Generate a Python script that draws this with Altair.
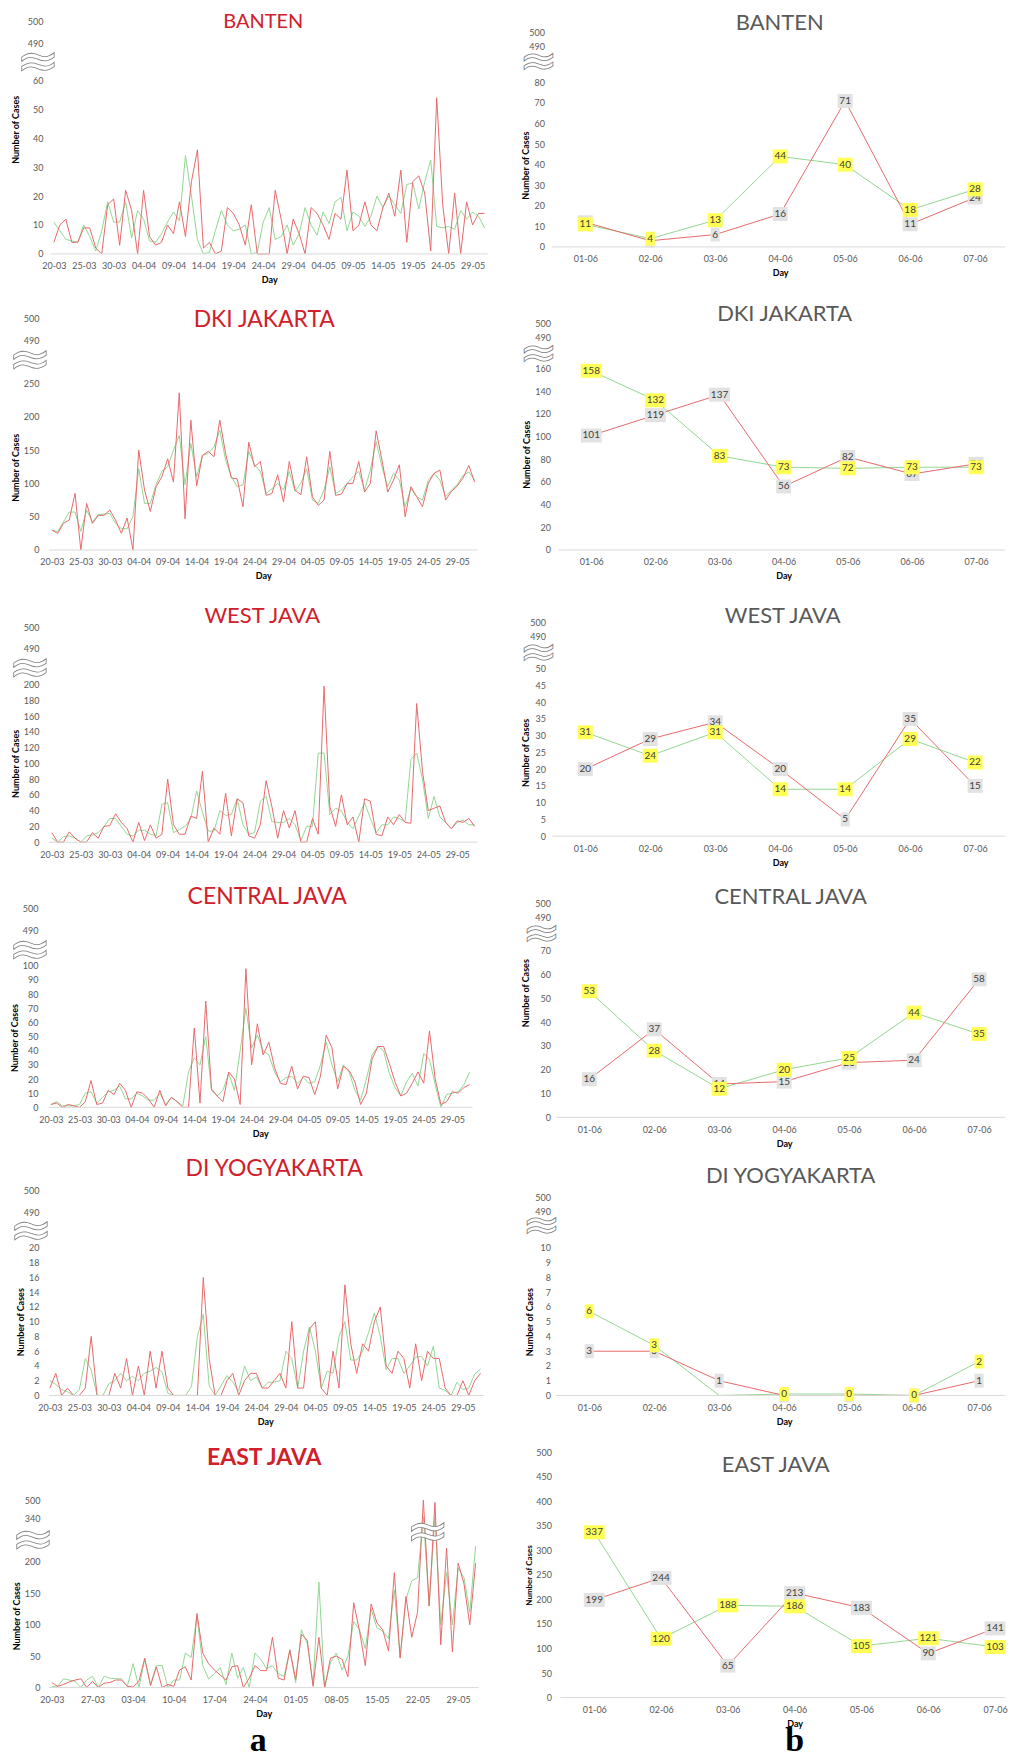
import altair as alt
import pandas as pd

# ---------------- categories ----------------
days = list(pd.date_range("2020-03-20", "2020-06-01").strftime("%d-%m"))  # 20-03 .. 01-06
days_banten = list(pd.date_range("2020-03-20", "2020-05-31").strftime("%d-%m"))  # 20-03 .. 31-05
pred_days = ["01-06", "02-06", "03-06", "04-06", "05-06", "06-06", "07-06"]
ticks_5 = ["20-03", "25-03", "30-03", "04-04", "09-04", "14-04", "19-04", "24-04",
           "29-04", "04-05", "09-05", "14-05", "19-05", "24-05", "29-05"]
ticks_7 = ["20-03", "27-03", "03-04", "10-04", "17-04", "24-04", "01-05", "08-05",
           "15-05", "22-05", "29-05"]

# ---------------- daily series (left, a) ----------------
banten_red = [4, 10, 12, 4, 4, 9, 9, 2, 0, 17,
              19, 3, 22, 15, 0, 22, 6, 3, 4, 10,
              7, 18, 6, 25, 36, 2, 4, 0, 1, 16,
              14, 10, 3, 17, 0, 0, 0, 22, 12, 0,
              12, 7, 0, 16, 14, 10, 5, 14, 12, 29,
              8, 10, 18, 10, 8, 16, 21, 13, 29, 4,
              25, 27, 21, 1, 54, 17, 0, 21, 0, 18,
              10, 14, 14]
banten_green = [11, 8, 5, 4.5, 4, 10, 6, 1, 8, 18,
                11, 11, 18, 5.5, 15, 12, 4.5, 4, 7, 11,
                14.5, 11.5, 34, 20, 5, 0, 0.5, 8, 15, 10,
                8, 8.5, 10, 0, 0.5, 11, 16, 5, 6, 10,
                3, 7, 16, 10, 6.5, 14.5, 10.5, 18, 19.5, 8,
                14.5, 13, 9.5, 13, 20, 16, 20, 17, 14, 24,
                24.5, 15.5, 25, 32.5, 9.5, 9, 9.5, 8.5, 15, 12,
                14.5, 13, 9]

dki_red = [30, 25, 40, 45, 85, 0, 70, 40, 52, 52,
           60, 45, 25, 48, 0, 150, 90, 58, 95, 110,
           137, 102, 236, 47, 195, 96, 142, 148, 140, 195,
           145, 108, 107, 65, 162, 125, 133, 82, 85, 113,
           72, 133, 90, 83, 140, 80, 67, 75, 148, 82,
           84, 100, 100, 133, 87, 100, 179, 135, 87, 105,
           128, 50, 95, 80, 65, 100, 115, 120, 75, 88,
           96, 108, 127, 102]
dki_green = [30, 28, 42, 57, 57, 28, 60, 42, 53, 54,
             55, 40, 32, 32, 50, 122, 70, 70, 98, 118,
             125, 150, 172, 98, 160, 110, 142, 145, 155, 180,
             135, 110, 95, 98, 148, 128, 118, 85, 92, 100,
             90, 118, 88, 100, 122, 75, 70, 90, 125, 85,
             90, 100, 110, 118, 90, 120, 163, 125, 95, 115,
             105, 65, 92, 80, 75, 105, 115, 105, 80, 90,
             98, 112, 117, 105]

wj_red = [12, 0, 0, 13, 5, 0, 0, 12, 5, 20,
          21, 36, 25, 17, 0, 25, 2, 22, 5, 10,
          80, 22, 10, 10, 33, 30, 90, 0, 18, 10,
          62, 8, 55, 50, 8, 5, 22, 78, 45, 5,
          40, 18, 40, 0, 0, 30, 10, 198, 45, 20,
          60, 22, 32, 0, 55, 52, 10, 8, 32, 22,
          35, 25, 24, 176, 90, 40, 43, 46, 25, 17,
          27, 25, 30, 20]
wj_green = [5, 0, 7, 8, 5, 0, 8, 9, 12, 20,
            30, 30, 20, 10, 8, 15, 15, 10, 8, 48,
            50, 12, 16, 20, 30, 65, 38, 14, 14, 40,
            34, 35, 55, 22, 10, 12, 52, 58, 26, 25,
            25, 30, 22, 2, 20, 20, 113, 113, 35, 43,
            40, 25, 17, 33, 50, 30, 12, 22, 22, 32,
            30, 26, 105, 113, 80, 30, 58, 32, 25, 17,
            25, 28, 22, 22]

cj_red = [2, 3, 0, 2, 1, 0, 4, 19, 2, 3,
          12, 9, 17, 12, 0, 11, 10, 6, 0, 12,
          1, 7, 4, 0, 0, 56, 3, 75, 13, 8,
          4, 25, 20, 2, 98, 30, 59, 37, 46, 28,
          17, 16, 29, 13, 22, 21, 9, 22, 51, 42,
          13, 29, 26, 18, 2, 10, 34, 43, 43, 31,
          18, 8, 10, 17, 25, 17, 54, 20, 2, 4,
          11, 10, 14, 16]
cj_green = [2, 4, 1, 1, 1, 2, 10, 11, 3, 7,
            11, 12, 15, 6, 6, 10, 8, 5, 5, 10,
            2, 7, 4, 1, 25, 35, 30, 50, 12, 8,
            12, 24, 12, 40, 70, 42, 51, 40, 37, 25,
            18, 21, 22, 17, 21, 17, 18, 30, 46, 30,
            18, 30, 25, 12, 5, 20, 37, 43, 40, 24,
            14, 8, 18, 24, 15, 38, 34, 16, 0, 9,
            10, 11, 16, 25]

diy_red = [1, 3, 0, 1, 0, 0, 1, 8, 0, 0,
           0, 3, 1, 5, 0, 4, 0, 6, 1, 6,
           1, 0, 0, 0, 0, 0, 16, 5, 0, 0,
           2, 3, 0, 2, 3, 3, 1, 1, 2, 3,
           1, 10, 1, 1, 9, 10, 1, 0, 6, 1,
           15, 7, 3, 7, 6, 10, 12, 4, 3, 6,
           5, 1, 7, 2, 6, 5, 5, 1, 0, 0,
           2, 0, 2, 3]
diy_green = [2, 1.5, 0.8, 0.5, 0, 0.8, 5, 3.5, 0, 0,
             1.6, 2, 3, 2, 2.6, 2, 3, 3.3, 3.8, 3.2,
             0.3, 0, 0, 0, 1.2, 8, 11, 1.3, 0, 1.3,
             2.7, 1.8, 0.6, 4, 2, 2.5, 1, 1.8, 1.8, 2,
             6, 5, 1, 6, 9.3, 6, 1, 3.3, 3, 8,
             10, 4.8, 4.8, 6, 8.5, 11.2, 8, 3.5, 5, 5,
             3, 4, 5.2, 5.3, 4, 6.7, 1, 0.7, 0, 1.8,
             0.8, 1, 2.9, 3.6]

ej_red = [8, 2, 5, 9, 12, 14, 0, 10, 0, 7,
          8, 12, 12, 2, 1, 10, 47, 3, 33, 0,
          5, 2, 28, 33, 12, 118, 55, 38, 28, 20,
          12, 33, 35, 0, 15, 35, 27, 27, 80, 15,
          12, 60, 13, 85, 75, 2, 80, 0, 47, 50,
          45, 17, 135, 90, 35, 133, 103, 92, 58, 183,
          47, 145, 80, 120, 500, 130, 480, 68, 222, 57,
          198, 165, 100, 198]
ej_green = [2, 2, 14, 12, 10, 0, 12, 18, 0, 18,
            15, 14, 14, 2, 38, 0, 45, 5, 35, 35,
            0, 12, 12, 55, 48, 115, 35, 14, 22, 32,
            5, 55, 15, 32, 0, 55, 45, 30, 35, 22,
            18, 60, 8, 92, 70, 5, 168, 0, 40, 55,
            28, 50, 105, 92, 62, 125, 95, 90, 78, 155,
            48, 140, 170, 175, 350, 130, 350, 100, 183, 100,
            190, 175, 120, 225]

# ---------------- 7-day series (right, b) ----------------
banten_r_red = [12, 3, 6, 16, 71, 11, 24]
banten_r_green = [11, 4, 13, 44, 40, 18, 28]
dki_r_red = [101, 119, 137, 56, 82, 67, 76]
dki_r_green = [158, 132, 83, 73, 72, 73, 73]
wj_r_red = [20, 29, 34, 20, 5, 35, 15]
wj_r_green = [31, 24, 31, 14, 14, 29, 22]
cj_r_red = [16, 37, 14, 15, 23, 24, 58]
cj_r_green = [53, 28, 12, 20, 25, 44, 35]
diy_r_red = [3, 3, 1, 0, 0, 0, 1]
diy_r_green = [5.7, 3.4, -0.5, 0.1, 0.1, 0, 2.3]
ej_r_red = [199, 244, 65, 213, 183, 90, 141]
ej_r_green = [337, 120, 188, 186, 105, 121, 103]

# ---------------- styling ----------------
FONT = "Lato"
RED = "#e8696c"
GREEN = "#93d793"
GRAY = "#595959"
TITLE_RED = "#d0202a"
BOX_GRAY = "#e2e2e2"
BOX_YELLOW = "#ffff55"
WL, WR = 441, 454


def one(**kw):
    return pd.DataFrame([kw])


def text_layer(t, x, y, **mk):
    return alt.Chart(one(t=t)).mark_text(**mk).encode(
        x=alt.value(x), y=alt.value(y), text="t:N")


def squiggle(x, y, size):
    return text_layer("≈", x, y, font="DejaVu Sans", fontSize=size, fill="white",
                      stroke="#808080", strokeWidth=0.8, align="center",
                      baseline="middle")


def y_axis(p):
    return alt.Axis(values=p["yt"], domain=False, ticks=False, grid=False,
                    labelColor=GRAY, labelFont=FONT, labelFontSize=9,
                    labelPadding=p["lp"], labelOverlap=False,
                    title="Number of Cases", titleFont=FONT,
                    titleFontSize=p.get("tfs", 9), titleFontWeight="bold",
                    titleColor="black", titleX=p["tx"], titleY=p["ty"],
                    titleAngle=270, titleAlign="center", titleBaseline="middle")


def x_axis(p, values=None):
    kw = dict(labelAngle=0, domain=False, ticks=False, grid=False,
              labelColor=GRAY, labelFont=FONT, labelFontSize=9, labelPadding=8,
              labelOverlap=False, offset=p["xoff"], title=p.get("xtitle", "Day"),
              titleFont=FONT, titleFontSize=9, titleFontWeight="bold",
              titleColor="black", titlePadding=5)
    if values is not None:
        kw["values"] = values
    return alt.Axis(**kw)


def panel(p, cats, left):
    W, H = p["W"], p["H"]
    n = len(cats)
    df = pd.DataFrame({"d": cats + cats, "v": p["red"] + p["green"],
                       "s": ["r"] * n + ["g"] * n})
    xs = alt.Scale(type="point", domain=cats, range=p["xr"], padding=0)
    xenc = alt.X("d:O", scale=xs, axis=x_axis(p, p.get("xt")))
    yenc = alt.Y("v:Q", scale=alt.Scale(domain=p["dom"], range=p["rng"], nice=False,
                                        zero=False, clamp=True),
                 axis=y_axis(p))
    base = alt.Chart(df)
    layers = [
        base.transform_filter("datum.s == 'g'").mark_line(
            color=GREEN, strokeWidth=1).encode(x=xenc, y=yenc),
        base.transform_filter("datum.s == 'r'").mark_line(
            color=RED, strokeWidth=1).encode(x=xenc, y=yenc),
        alt.Chart(one(z=0)).mark_rule(color="#d9d9d9", strokeWidth=1).encode(
            x=alt.value(p["bl"][0]), x2=alt.value(p["bl"][1]),
            y=alt.value(p["rng"][0])),
    ]
    if not left:
        for s, col in (("r", BOX_GRAY), ("g", BOX_YELLOW)):
            sub = base.transform_filter(
                f"datum.s == '{s}' && datum.v >= 0").transform_calculate(
                bw="length(format(datum.v, '.0f')) * 6 + 3")
            layers.append(sub.mark_tick(orient="horizontal", thickness=14, opacity=1,
                                        color=col).encode(
                x=xenc, y=yenc, size=alt.Size("bw:Q", scale=None, legend=None)))
            layers.append(sub.mark_text(font=FONT, fontSize=10, color="#404040").encode(
                x=xenc, y=yenc, text=alt.Text("v:Q", format=".0f")))
        layers.append(text_layer(p["name"], p["ttx"], p["tty"], font=FONT, fontSize=22,
                                 color=GRAY, align="center", baseline="middle"))
        sq_size, sq_dy = 46, -2
    else:
        layers.append(text_layer(p["name"], p["ttx"], p["tty"], font=FONT,
                                 fontSize=p["tsize"], fontWeight=p.get("tweight", "normal"),
                                 color=TITLE_RED, align="center", baseline="middle"))
        sq_size, sq_dy = 52, 3
    for sx, sy in p["sq"]:
        layers.append(squiggle(sx, sy + sq_dy, sq_size))
    for extra in p.get("extra", []):
        layers.append(extra)
    return alt.layer(*layers).properties(width=W, height=H)


def rng(a, b, step):
    return list(range(a, b + 1, step))


letter_a = text_layer("a", 210, 300, font="Liberation Serif", fontSize=34,
                      fontWeight="bold", color="black", align="center",
                      baseline="alphabetic")
letter_b = text_layer("b", 243, 300, font="Liberation Serif", fontSize=34,
                      fontWeight="bold", color="black", align="center",
                      baseline="alphabetic")

rows_spec = [
    (dict(name="BANTEN", red=banten_red, green=banten_green, W=WL, H=298, cats=days_banten,
          dom=[0, 60, 490, 500], rng=[233, 59, 22, 0], yt=rng(0, 60, 10) + [490, 500],
          xt=ticks_5, xr=[5, 437], bl=[2, 440], lp=6, xoff=-65, tx=-33, ty=108,
          ttx=215, tty=0, tsize=20, sq=[(-11, 38)]),
     dict(name="BANTEN", red=banten_r_red, green=banten_r_green, W=WR, H=298,
          dom=[0, 80, 490, 500], rng=[226, 61, 25, 11], yt=rng(0, 80, 10) + [490, 500],
          xr=[33, 424], bl=[0, 454], lp=8, xoff=-72, tx=-27, ty=144,
          ttx=228, tty=1, sq=[(-14, 43)])),
    (dict(name="DKI JAKARTA", red=dki_red, green=dki_green, W=WL, H=305,
          dom=[0, 250, 490, 500], rng=[232, 65, 22, 0], yt=rng(0, 250, 50) + [490, 500],
          xt=ticks_5, xr=[3, 427], bl=[0, 430], lp=10, xoff=-73, tx=-33, ty=149,
          ttx=216, tty=1, tsize=23, sq=[(-19, 38)]),
     dict(name="DKI JAKARTA", red=dki_r_red, green=dki_r_green, W=WR, H=305,
          dom=[0, 160, 490, 500], rng=[232, 50, 19, 5], yt=rng(0, 160, 20) + [490, 500],
          xr=[39, 425], bl=[6, 454], lp=2, xoff=-73, tx=-26, ty=136,
          ttx=233, tty=-5, sq=[(-14, 37)])),
    (dict(name="WEST JAVA", red=wj_red, green=wj_green, W=WL, H=282,
          dom=[0, 200, 490, 500], rng=[220, 62, 26, 5], yt=rng(0, 200, 20) + [490, 500],
          xt=ticks_5, xr=[3, 427], bl=[0, 430], lp=10, xoff=-62, tx=-33, ty=141,
          ttx=214, tty=-7, tsize=22, sq=[(-19, 42)], xtitle=None),
     dict(name="WEST JAVA", red=wj_r_red, green=wj_r_green, W=WR, H=282,
          dom=[0, 50, 490, 500], rng=[214, 46, 14, 0], yt=rng(0, 50, 5) + [490, 500],
          xr=[33, 424], bl=[0, 454], lp=7, xoff=-68, tx=-27, ty=130,
          ttx=231, tty=-7, sq=[(-14, 32)])),
    (dict(name="CENTRAL JAVA", red=cj_red, green=cj_green, W=WL, H=287,
          dom=[0, 100, 490, 500], rng=[204, 62, 27, 5], yt=rng(0, 100, 10) + [490, 500],
          xt=ticks_5, xr=[2, 422], bl=[0, 425], lp=11, xoff=-83, tx=-34, ty=134,
          ttx=219, tty=-7, tsize=23, sq=[(-19, 43)]),
     dict(name="CENTRAL JAVA", red=cj_r_red, green=cj_r_green, W=WR, H=287,
          dom=[0, 70, 490, 500], rng=[214, 47, 14, 0], yt=rng(0, 70, 10) + [490, 500],
          xr=[37, 428], bl=[4, 454], lp=2, xoff=-73, tx=-27, ty=89,
          ttx=239, tty=-7, sq=[(-11, 32)])),
    (dict(name="DI YOGYAKARTA", red=diy_red, green=diy_green, W=WL, H=263,
          dom=[0, 20, 490, 500], rng=[206, 58, 22, 0], yt=rng(0, 20, 2) + [490, 500],
          xt=ticks_5, xr=[1, 433], bl=[0, 436], lp=10, xoff=-57, tx=-28, ty=132,
          ttx=226, tty=-21, tsize=23, sq=[(-18, 38)]),
     dict(name="DI YOGYAKARTA", red=diy_r_red, green=diy_r_green, W=WR, H=263,
          dom=[0, 10, 490, 500], rng=[206, 58, 21, 7], yt=rng(0, 10, 1) + [490, 500],
          xr=[37, 428], bl=[4, 454], lp=2, xoff=-57, tx=-23, ty=132,
          ttx=239, tty=-14, sq=[(-11, 38)])),
    (dict(name="EAST JAVA", red=ej_red, green=ej_green, W=WL, H=246,
          dom=[0, 230, 340, 500], rng=[236, 91, 66, 48],
          yt=[0, 50, 100, 150, 200, 340, 500],
          xt=ticks_7, xr=[3, 428], bl=[0, 431], lp=9, xoff=-10, tx=-32, ty=164,
          ttx=216, tty=6, tsize=23, tweight="bold", sq=[(-16, 85), (380, 77)],
          extra=[letter_a]),
     dict(name="EAST JAVA", red=ej_r_red, green=ej_r_green, W=WR, H=246,
          dom=[0, 500], rng=[246, 0], yt=rng(0, 500, 50), xr=[42, 444], bl=[8, 454],
          lp=1, xoff=0, tx=-23, ty=123, tfs=8, ttx=224, tty=13, sq=[],
          extra=[letter_b])),
]

panels = []
for lp_, rp_ in rows_spec:
    panels.append(panel(lp_, lp_.get("cats", days), True))
    panels.append(panel(rp_, pred_days, False))

chart = alt.concat(*panels, columns=2, spacing={"row": 0, "column": 554 - 49 - WL},
                   bounds="flush", align="each").properties(
    padding={"left": 0, "top": 1, "right": 0, "bottom": 0},
    background="white",
).configure_view(stroke=None).configure_axis(labelOverlap=False)

chart.save("out.html", embed_options={"renderer": "svg", "actions": False})
